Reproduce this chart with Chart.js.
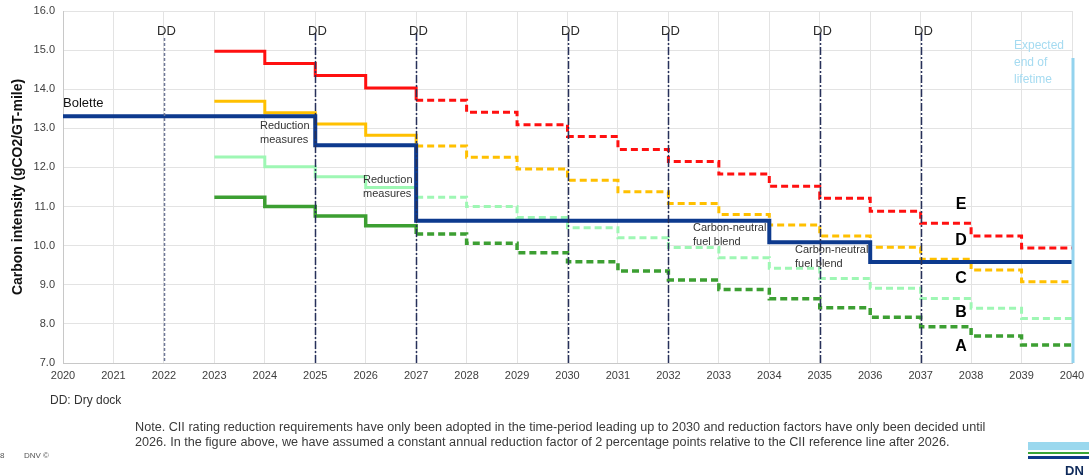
<!DOCTYPE html>
<html>
<head>
<meta charset="utf-8">
<script src="https://cdn.jsdelivr.net/npm/chart.js@4.4.1/dist/chart.umd.min.js"></script>
<style>
  body { margin: 0; background: #fff; font-family: "Liberation Sans", Arial, sans-serif; }
  #wrap { position: relative; width: 1089px; height: 476px; overflow: hidden; }
  .txt { position: absolute; color: #333; font-size: 11px; white-space: nowrap; }
</style>
</head>
<body>
<div id="wrap">
  <canvas id="ciiChart"></canvas>
  <div class="txt" style="left:50px; top:393px; font-size:12px;">DD: Dry dock</div>
  <div class="txt" style="left:135px; top:420px; font-size:12.65px; line-height:15px; color:#3a3a3a;">Note. CII rating reduction requirements have only been adopted in the time-period leading up to 2030 and reduction factors have only been decided until<br>2026. In the figure above, we have assumed a constant annual reduction factor of 2 percentage points relative to the CII reference line after 2026.</div>
  <div class="txt" style="left:0px; top:451px; font-size:8px; color:#555;">8</div>
  <div class="txt" style="left:24px; top:451px; font-size:8px; color:#555;">DNV ©</div>
  <div style="position:absolute; left:1028px; top:442px; width:61px; height:8px; background:#9ad8ee;"></div>
  <div style="position:absolute; left:1028px; top:452px; width:61px; height:2px; background:#3aa537;"></div>
  <div style="position:absolute; left:1028px; top:456px; width:61px; height:3px; background:#0f3a8a;"></div>
  <div class="txt" style="left:1065px; top:463px; font-size:13px; color:#0f2a5a; font-weight:bold;">DN</div>
</div>
<script>
    // =========================
    // Données
    // =========================

    const ratingYears = [2023, 2024, 2025, 2026, 2027, 2028, 2029, 2030, 2031, 2032, 2033, 2034, 2035, 2036, 2037, 2038, 2039];
    const ratingE = [14.97, 14.66, 14.35, 14.03, 13.72, 13.41, 13.09, 12.79, 12.46, 12.15, 11.83, 11.52, 11.21, 10.88, 10.57, 10.25, 9.94];
    const ratingD = [13.69, 13.40, 13.11, 12.82, 12.55, 12.26, 11.96, 11.67, 11.38, 11.08, 10.80, 10.53, 10.25, 9.96, 9.65, 9.38, 9.08];
    const ratingB = [12.27, 12.02, 11.76, 11.49, 11.24, 11.00, 10.72, 10.46, 10.20, 9.95, 9.69, 9.42, 9.16, 8.91, 8.65, 8.40, 8.14];
    const ratingA = [11.24, 11.00, 10.76, 10.51, 10.30, 10.06, 9.82, 9.59, 9.35, 9.12, 8.88, 8.64, 8.41, 8.17, 7.93, 7.69, 7.46];
    const endYear = 2040;

    const boletteYears = [2020, 2025, 2027, 2034, 2036, 2040];
    const boletteValues = [13.31, 12.57, 10.64, 10.09, 9.58, 9.58];

    const dryDockYears = [2022, 2025, 2027, 2030, 2032, 2035, 2037];
    const ratingLetters = ['E', 'D', 'C', 'B', 'A'];
    const yTicks = [7, 8, 9, 10, 11, 12, 13, 14, 15, 16];

    const toSteps = (values) => {
      const pts = ratingYears.map((yr, i) => ({ x: yr, y: values[i] }));
      pts.push({ x: endYear, y: values[values.length - 1] });
      return pts;
    };

    const ratingLine = (label, values, color, width) => ({
      label: label,
      data: toSteps(values),
      borderColor: color,
      borderWidth: width,
      stepped: true,
      pointRadius: 0,
      fill: false,
      segment: {
        borderDash: ctx => ctx.p0.parsed.x >= 2027 ? [7, 4] : undefined
      }
    });

    // =========================
    // Annotations (DD, textes)
    // =========================

    const annotations = {
      id: 'annotations',
      afterDatasetsDraw(chart) {
        const { ctx, scales: { x, y } } = chart;
        ctx.save();

        // lignes de cale sèche
        dryDockYears.forEach((yr, i) => {
          const px = Math.round(x.getPixelForValue(yr)) + 0.5;
          ctx.strokeStyle = i === 0 ? '#6f7896' : '#27305a';
          ctx.lineWidth = 1.5;
          ctx.setLineDash(i === 0 ? [3, 2] : [8, 2, 2, 2]);
          ctx.beginPath();
          ctx.moveTo(px, i === 0 ? 38 : 33);
          ctx.lineTo(px, y.bottom);
          ctx.stroke();
          ctx.setLineDash([]);
          ctx.fillStyle = '#2a2a2a';
          ctx.font = '13px "Liberation Sans", Arial, sans-serif';
          ctx.textAlign = 'center';
          ctx.textBaseline = 'middle';
          ctx.fillText('DD', px + 2, 31);
        });

        // fin de vie prévue
        const endX = x.getPixelForValue(endYear) + 1;
        ctx.strokeStyle = '#93d3ee';
        ctx.lineWidth = 3;
        ctx.beginPath();
        ctx.moveTo(endX, 58);
        ctx.lineTo(endX, y.bottom);
        ctx.stroke();
        ctx.fillStyle = '#a5dbf1';
        ctx.font = '12px "Liberation Sans", Arial, sans-serif';
        ctx.textAlign = 'left';
        ctx.fillText('Expected', 1014, 46);
        ctx.fillText('end of', 1014, 63);
        ctx.fillText('lifetime', 1014, 80);

        // étiquettes de notation
        ctx.fillStyle = '#000';
        ctx.font = 'bold 16px "Liberation Sans", Arial, sans-serif';
        ctx.textAlign = 'center';
        const letterY = [11.06, 10.12, 9.15, 8.30, 7.43];
        ratingLetters.forEach((l, i) => {
          ctx.fillText(l, x.getPixelForValue(2037.8), y.getPixelForValue(letterY[i]));
        });

        // textes
        ctx.fillStyle = '#111';
        ctx.font = '13px "Liberation Sans", Arial, sans-serif';
        ctx.textAlign = 'left';
        ctx.fillText('Bolette', 63, 103);

        ctx.fillStyle = '#333';
        ctx.font = '11px "Liberation Sans", Arial, sans-serif';
        ctx.fillText('Reduction', 260, 126);
        ctx.fillText('measures', 260, 140);
        ctx.fillText('Reduction', 363, 180);
        ctx.fillText('measures', 363, 194);
        ctx.fillText('Carbon-neutral', 693, 228);
        ctx.fillText('fuel blend', 693, 242);
        ctx.fillText('Carbon-neutral', 795, 250);
        ctx.fillText('fuel blend', 795, 264);

        ctx.restore();
      }
    };

    // =========================
    // Graphique
    // =========================

    const chartCtx = document.getElementById('ciiChart');

    new Chart(chartCtx, {
      type: 'line',
      data: {
        datasets: [
          {
            label: 'Bolette',
            data: boletteYears.map((yr, i) => ({ x: yr, y: boletteValues[i] })),
            borderColor: '#0d3a8e',
            borderWidth: 4,
            stepped: true,
            pointRadius: 0,
            fill: false
          },
          ratingLine('E', ratingE, '#ff1010', 3),
          ratingLine('D', ratingD, '#ffc000', 3),
          ratingLine('B', ratingB, '#9ef7b4', 3),
          ratingLine('A', ratingA, '#3c9f32', 3.5)
        ]
      },
      options: {
        responsive: true,
        maintainAspectRatio: false,
        animation: false,
        layout: {
          padding: { left: 0, right: 17, top: 11, bottom: 93 }
        },
        plugins: {
          legend: { display: false },
          tooltip: { enabled: false }
        },
        scales: {
          x: {
            type: 'linear',
            min: 2020,
            max: 2040,
            afterFit: s => { s.height = 20; s.paddingLeft = 0; s.paddingRight = 0; },
            grid: { color: '#e3e3e3', drawTicks: false },
            border: { color: '#c8c8c8' },
            ticks: {
              stepSize: 1,
              padding: 6,
              color: '#404040',
              font: { size: 11, family: '"Liberation Sans", Arial, sans-serif' },
              callback: v => String(v)
            }
          },
          y: {
            min: 7,
            max: 16,
            afterFit: s => { s.width = 63; s.paddingTop = 0; s.paddingBottom = 0; },
            afterBuildTicks: s => { s.ticks = yTicks.map(v => ({ value: v })); },
            grid: { color: '#e3e3e3', drawTicks: false },
            border: { color: '#c8c8c8' },
            ticks: {
              padding: 8,
              color: '#404040',
              font: { size: 11, family: '"Liberation Sans", Arial, sans-serif' },
              callback: v => v.toFixed(1)
            },
            title: {
              display: true,
              text: 'Carbon intensity (gCO2/GT-mile)',
              color: '#111',
              padding: { top: 10, bottom: 0 },
              font: { size: 14, weight: 'bold', family: '"Liberation Sans", Arial, sans-serif' }
            }
          }
        }
      },
      plugins: [annotations]
    });
</script>
</body>
</html>
